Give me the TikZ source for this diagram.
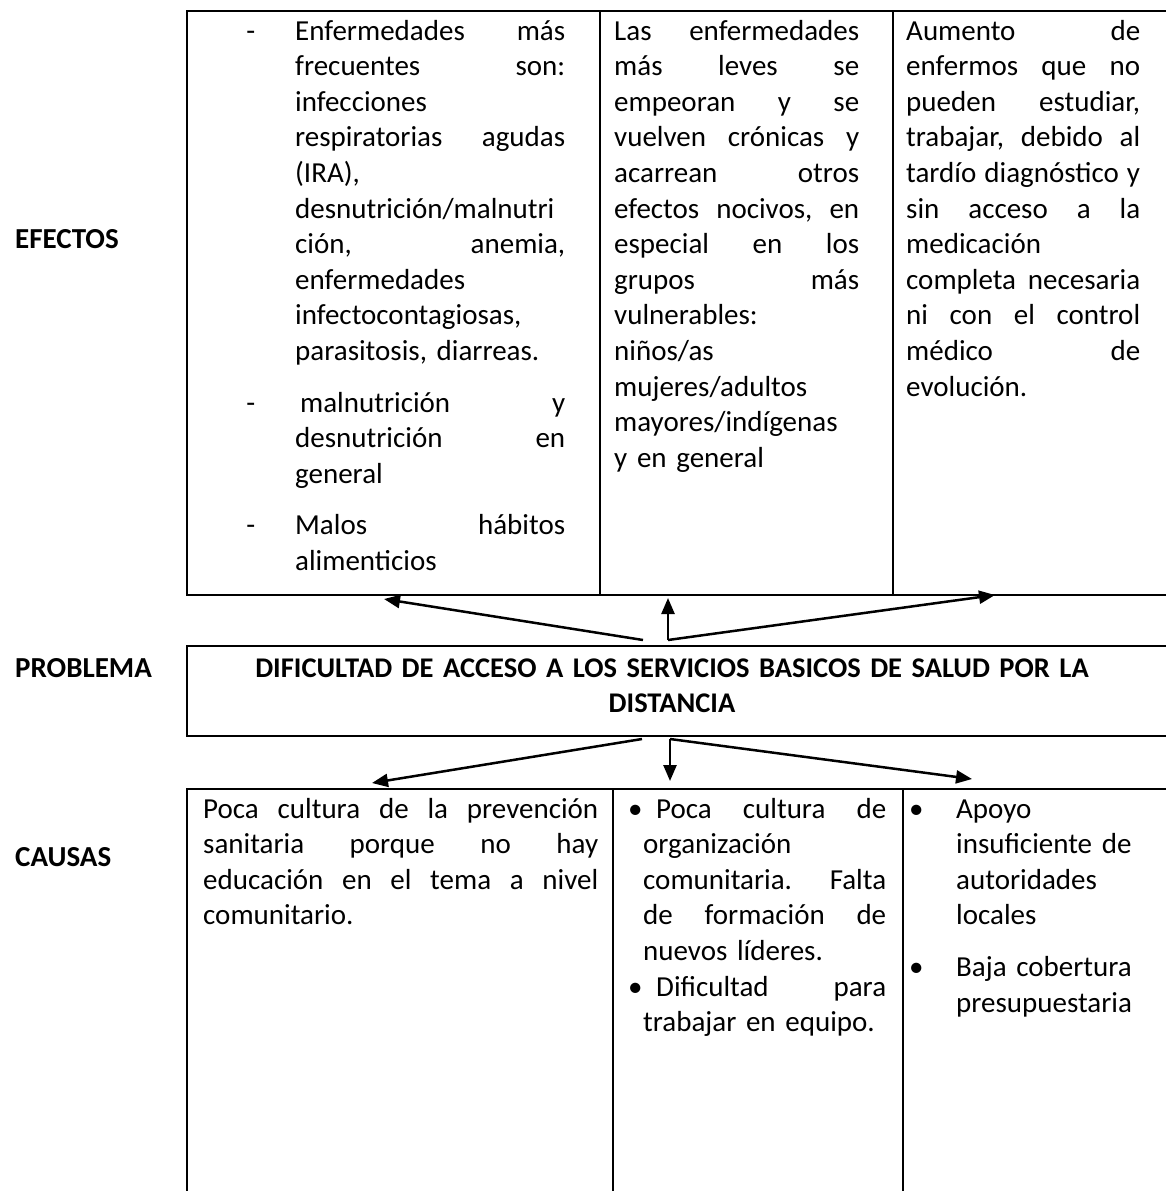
\documentclass[tikz,border=0pt]{standalone}
\usepackage{fontspec}
\setmainfont{Carlito}
\usetikzlibrary{arrows.meta}

\begin{document}
\begin{tikzpicture}[x=1pt,y=-1pt]
    \tikzset{every node/.style={inner sep=0pt,font=\fontsize{29}{35.6}\selectfont}}
    \tikzset{cell/.style = {anchor=base west,align=left}}
    \tikzset{tag/.style = {anchor=base west,font=\fontsize{29}{35.6}\selectfont\bfseries}}
    \tikzset{frame/.style = {line width=2pt}}
    \tikzset{edge/.style = {line width=2.5pt,-{Triangle[length=16pt,width=13pt]}}}
    \useasboundingbox (0,0) rectangle (1166,1191);

    % labels
    \node[tag] (efectos) at (15,248) {EFECTOS};
    \node[tag] (problema) at (15,677) {PROBLEMA};
    \node[tag] (causas) at (15,866) {CAUSAS};

    % boxes
    \draw[frame] (1166,11) -- (187,11) -- (187,595) -- (1166,595);
    \draw[frame] (600,11) -- (600,595);
    \draw[frame] (893,11) -- (893,595);
    \draw[frame] (1166,646) -- (187,646) -- (187,736) -- (1166,736);
    \draw[frame] (1166,789) -- (187,789) -- (187,1191);
    \draw[frame] (613,789) -- (613,1191);
    \draw[frame] (903,789) -- (903,1191);

    % efectos
    \node[cell,text width=270pt] (efe1) at (295,40) {%
        \leavevmode\llap{-\hspace{40pt}}Enfermedades\hfill más\\
        frecuentes\hfill son:\\
        infecciones\\
        respiratorias\hfill agudas\\
        (IRA),\\
        desnutrición/malnutri\\
        ción,\hfill anemia,\\
        enfermedades\\
        infectocontagiosas,\\
        parasitosis, diarreas.\\[16pt]
        \leavevmode\llap{-\hspace{40pt}}\hspace*{5pt}malnutrición\hfill y\\
        desnutrición\hfill en\\
        general\\[16pt]
        \leavevmode\llap{-\hspace{40pt}}Malos\hfill hábitos\\
        alimenticios};
    \node[cell,text width=245pt] (efe2) at (614,40) {%
        Las\hfill enfermedades\\
        más\hfill leves\hfill se\\
        empeoran\hfill y\hfill se\\
        vuelven\hfill crónicas\hfill y\\
        acarrean\hfill otros\\
        efectos\hfill nocivos,\hfill en\\
        especial\hfill en\hfill los\\
        grupos\hfill más\\
        vulnerables:\\
        niños/as\\
        mujeres/adultos\\
        mayores/indígenas\\
        y en general};
    \node[cell,text width=234pt] (efe3) at (906,40) {%
        Aumento\hfill de\\
        enfermos\hfill que\hfill no\\
        pueden\hfill estudiar,\\
        trabajar,\hfill debido\hfill al\\
        tardío\hfill diagnóstico\hfill y\\
        sin\hfill acceso\hfill a\hfill la\\
        medicación\\
        completa\hfill necesaria\\
        ni\hfill con\hfill el\hfill control\\
        médico\hfill de\\
        evolución.};

    % problema
    \node[anchor=base,align=center,text width=900pt,
        font=\fontsize{28.5}{35}\selectfont\bfseries] (dificultad) at (672,677)
        {DIFICULTAD DE ACCESO A LOS SERVICIOS BASICOS DE SALUD POR LA\\DISTANCIA};

    % causas
    \node[cell,text width=395pt] (cau1) at (203,818) {%
        Poca\hfill cultura\hfill de\hfill la\hfill prevención\\
        sanitaria\hfill porque\hfill no\hfill hay\\
        educación\hfill en\hfill el\hfill tema\hfill a\hfill nivel\\
        comunitario.};
    \node[cell,text width=243pt] (cau2) at (643,818) {%
        \hspace*{-15pt}\makebox[28pt][l]{•}Poca\hfill cultura\hfill de\\
        organización\\
        comunitaria.\hfill Falta\\
        de\hfill formación\hfill de\\
        nuevos líderes.\\
        \hspace*{-15pt}\makebox[28pt][l]{•}Dificultad\hfill para\\
        trabajar en equipo.};
    \node[cell,text width=190pt] (cau3) at (956,818) {%
        \leavevmode\llap{\makebox[47pt][l]{•}}Apoyo\\
        insuficiente de\\
        autoridades\\
        locales\\[16pt]
        \leavevmode\llap{\makebox[47pt][l]{•}}Baja cobertura\\
        presupuestaria};

    % arrows
    \coordinate (up0) at (643,640);
    \coordinate (up1) at (668,640);
    \coordinate (tip1) at (384,599);
    \coordinate (tip2) at (668,598);
    \coordinate (tip3) at (995,595);
    \coordinate (dn0) at (642,739);
    \coordinate (dn1) at (670,739);
    \coordinate (tip4) at (372,783);
    \coordinate (tip5) at (670,781);
    \coordinate (tip6) at (972,779);
    \draw[edge] (up0) -- (tip1);
    \draw[edge] (up1) -- (tip2);
    \draw[edge] (up1) -- (tip3);
    \draw[edge] (dn0) -- (tip4);
    \draw[edge] (dn1) -- (tip5);
    \draw[edge] (dn1) -- (tip6);
\end{tikzpicture}
\end{document}
